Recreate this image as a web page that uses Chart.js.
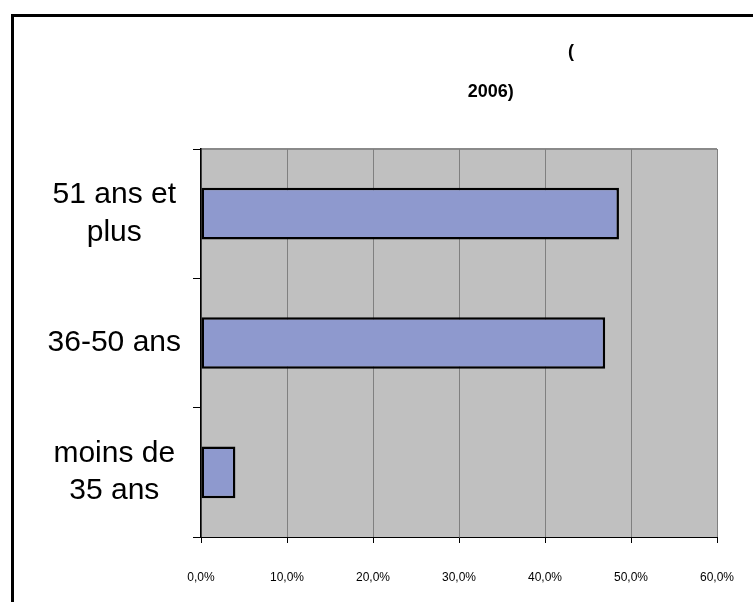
<!DOCTYPE html>
<html>
<head>
<meta charset="utf-8">
<script src="https://cdn.jsdelivr.net/npm/chart.js@4.4.1/dist/chart.umd.min.js"></script>
<style>
  html, body { margin: 0; padding: 0; width: 753px; height: 602px; overflow: hidden; background: #fff; }
  #frame { position: absolute; left: 11px; top: 14px; width: 900px; height: 900px; border: 3px solid #000; box-sizing: border-box; }
  #wrap { position: absolute; left: 0; top: 0; width: 753px; height: 602px; }
</style>
</head>
<body>
<div id="frame"></div>
<div id="wrap"><canvas id="c" width="753" height="602"></canvas></div>
<script>
const categories = [["51 ans et", "plus"], "36-50 ans", ["moins de", "35 ans"]];
const values = [48.6, 47.0, 4.0];
const xTicks = [0, 10, 20, 30, 40, 50, 60];
const titleLines = ["(", "2006)"];

const FONT = "'Liberation Sans', Arial, sans-serif";

const plotBg = {
  id: 'plotBg',
  beforeDraw(chart) {
    const a = chart.chartArea, ctx = chart.ctx;
    ctx.save();
    ctx.fillStyle = '#C0C0C0';
    ctx.fillRect(a.left, a.top, a.right - a.left, a.bottom - a.top);
    ctx.strokeStyle = '#8a8a8a';
    ctx.lineWidth = 2;
    ctx.beginPath();
    ctx.moveTo(a.left, a.top);
    ctx.lineTo(a.right, a.top);
    ctx.stroke();
    ctx.restore();
  },
  afterDraw(chart) {
    const a = chart.chartArea, ctx = chart.ctx;
    const w = a.right - a.left;
    ctx.save();
    ctx.fillStyle = '#000';
    ctx.font = 'bold 18px ' + FONT;
    ctx.textBaseline = 'middle';
    ctx.textAlign = 'center';
    ctx.fillText(titleLines[0], a.left + w * 0.717, a.top - 97);
    ctx.textAlign = 'right';
    ctx.fillText(titleLines[1], a.left + w * 0.606, a.top - 57);
    ctx.restore();
  }
};

new Chart(document.getElementById('c'), {
  type: 'bar',
  data: {
    labels: categories,
    datasets: [{
      data: values,
      backgroundColor: '#8E99CE',
      borderColor: '#000',
      borderWidth: 2.5,
      borderSkipped: false,
      categoryPercentage: 1,
      barPercentage: 0.4
    }]
  },
  options: {
    indexAxis: 'y',
    responsive: false,
    animation: false,
    layout: { padding: { left: 11, right: 36, top: 149, bottom: 18 } },
    plugins: { legend: { display: false }, title: { display: false }, tooltip: { enabled: false } },
    scales: {
      x: {
        min: 0, max: 60,
        afterBuildTicks(s) { s.ticks = xTicks.map(v => ({ value: v })); },
        afterFit(s) { s.height = 47; s.paddingLeft = 0; s.paddingRight = 0; },
        grid: { color: '#808080', lineWidth: 1, tickColor: '#000', tickLength: 6, drawTicks: true },
        border: { display: true, color: '#000', width: 1 },
        ticks: {
          color: '#000', padding: 27, maxRotation: 0,
          font: { family: FONT, size: 12 },
          callback: v => v.toFixed(1).replace('.', ',') + '%'
        }
      },
      y: {
        afterFit(s) { s.width = 190; s.paddingTop = 0; s.paddingBottom = 0; },
        grid: { drawOnChartArea: false, drawTicks: true, tickLength: 8, tickColor: '#000', offset: true },
        border: { display: true, color: '#000', width: 1.5 },
        ticks: {
          color: '#000', padding: 12, crossAlign: 'center',
          font: { family: FONT, size: 30, lineHeight: 1.24 }
        }
      }
    }
  },
  plugins: [plotBg]
});
</script>
</body>
</html>
